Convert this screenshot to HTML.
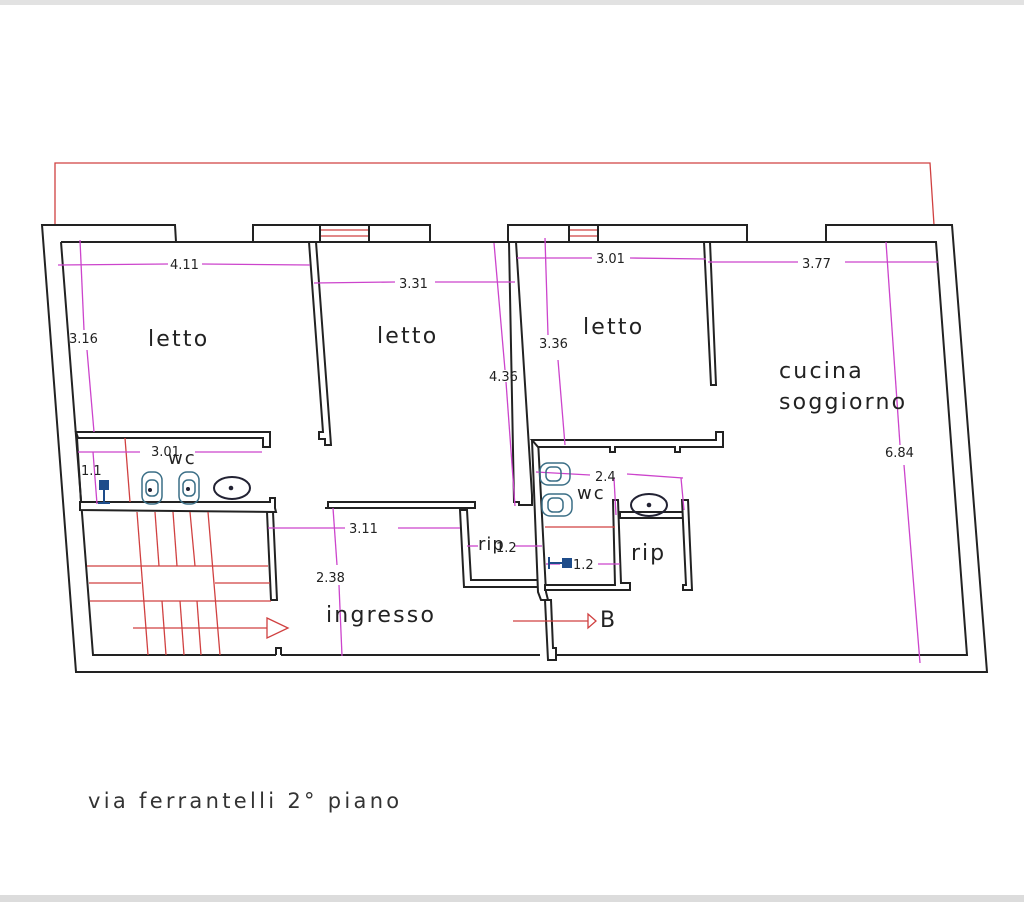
<!DOCTYPE html>
<html><head><meta charset="utf-8"><style>
html,body{margin:0;padding:0;background:#fff;}
svg{display:block;}
text{font-family:"DejaVu Sans","Liberation Sans",sans-serif;}
</style></head><body>
<svg width="1024" height="902" viewBox="0 0 1024 902" xmlns="http://www.w3.org/2000/svg">
<rect x="0" y="0" width="1024" height="5" fill="#e2e2e2"/>
<rect x="0" y="895" width="1024" height="7" fill="#dcdcdc"/>

<polyline points="55,225 55,163 930,163 934,225" fill="none" stroke="#d04040" stroke-width="1.3"/>
<g stroke="#d04040" stroke-width="1.2" fill="none">
<line x1="176" y1="242" x2="253" y2="242"/>
<line x1="430" y1="242" x2="508" y2="242"/>
<line x1="747" y1="242" x2="826" y2="242"/>
<line x1="320" y1="230" x2="369" y2="230"/><line x1="320" y1="236" x2="369" y2="236"/>
<line x1="569" y1="230" x2="598" y2="230"/><line x1="569" y1="236" x2="598" y2="236"/>
</g>

<g stroke="#222" stroke-width="2" fill="#fff" stroke-linejoin="miter">
<polyline points="176,242 175,225 42,225 76,672 987,672 952,225 826,225 826,242" fill="none"/>
<polyline points="253,242 253,225 430,225 430,242" fill="none"/>
<line x1="320" y1="225" x2="320" y2="242"/><line x1="369" y1="225" x2="369" y2="242"/>
<polyline points="508,242 508,225 747,225 747,242" fill="none"/>
<line x1="569" y1="225" x2="569" y2="242"/><line x1="598" y1="225" x2="598" y2="242"/>
<polyline points="61,242 309,242" fill="none"/>
<polyline points="61,242 93,655 276,655" fill="none"/>
<polyline points="281,655 540,655" fill="none"/>
<polyline points="552,655 967,655 936,242 710,242" fill="none"/>
<line x1="316" y1="242" x2="509" y2="242"/>
<line x1="516" y1="242" x2="704" y2="242"/>
<polyline points="276,655 276,648 281,648 281,655" fill="none"/>

<polygon points="309,242 316,242 331,445 325,445 325,439 319,439 319,432 323,432"/>
<polygon points="76,432 270,432 270,447 263,447 263,438 78,438"/>
<line x1="77" y1="438" x2="81" y2="502"/>
<polygon points="80,502 270,502 270,498 275,498 275,508 276,512 80,510"/>
<polygon points="267,512 273,512 277,600 271,600"/>
<polygon points="325,508 328,508 328,502 475,502 475,508 335,508"/>
<polygon points="460,510 467,510 471,580 545,580 545,587 464,587"/>
<polygon points="509,242 516,242 532,495 532,505 519,505 519,502 514,502"/>
<polygon points="532,440 538,440 546,592 548,600 541,600 538,592"/>
<polygon points="532,440 716,440 716,432 723,432 723,447 680,447 680,452 675,452 675,447 615,447 615,452 610,452 610,447 538,447"/>
<polygon points="704,242 710,242 716,385 711,385"/>
<polygon points="613,500 618,500 621,583 630,583 630,590 545,590 545,585 615,585"/>
<polygon points="620,512 684,512 684,518 620,518"/>
<polygon points="682,500 688,500 692,590 683,590 683,585 686,585"/>
<polygon points="545,600 551,600 553,648 556,648 556,660 548,660"/>
</g>

<g stroke="#d04040" stroke-width="1.3" fill="none">
<line x1="125" y1="438" x2="130" y2="502"/>
<line x1="545" y1="527" x2="615" y2="527"/>
<line x1="137" y1="512" x2="148" y2="655"/>
<line x1="208" y1="512" x2="220" y2="655"/>
<line x1="155" y1="512" x2="159" y2="566"/><line x1="173" y1="512" x2="177" y2="566"/><line x1="190" y1="512" x2="195" y2="566"/>
<line x1="162" y1="601" x2="166" y2="655"/><line x1="180" y1="601" x2="184" y2="655"/><line x1="197" y1="601" x2="201" y2="655"/>
<line x1="87" y1="566" x2="268" y2="566"/>
<line x1="89" y1="583" x2="141" y2="583"/><line x1="215" y1="583" x2="270" y2="583"/>
<line x1="90" y1="601" x2="271" y2="601"/>
<line x1="133" y1="628" x2="267" y2="628"/>
<polygon points="267,618 288,628 267,638"/>
<line x1="513" y1="621" x2="588" y2="621"/>
<polygon points="588,614 596,621 588,628"/>
</g>

<g stroke="#cc44cc" stroke-width="1.3" fill="none">
<line x1="58" y1="265" x2="168" y2="264"/><line x1="202" y1="264" x2="310" y2="265"/>
<line x1="314" y1="283" x2="395" y2="282"/><line x1="435" y1="282" x2="515" y2="282"/>
<line x1="517" y1="258" x2="592" y2="258"/><line x1="630" y1="258" x2="706" y2="259"/>
<line x1="708" y1="262" x2="798" y2="262"/><line x1="845" y1="262" x2="938" y2="262"/>
<line x1="80" y1="240" x2="84" y2="330"/><line x1="87" y1="350" x2="94" y2="432"/>
<line x1="494" y1="243" x2="505" y2="370"/><line x1="506" y1="382" x2="515" y2="506"/>
<line x1="545" y1="238" x2="548" y2="335"/><line x1="558" y1="360" x2="565" y2="445"/>
<line x1="886" y1="242" x2="900" y2="445"/><line x1="904" y1="465" x2="920" y2="663"/>
<line x1="333" y1="508" x2="337" y2="565"/><line x1="339" y1="585" x2="342" y2="656"/>
<line x1="78" y1="452" x2="140" y2="452"/><line x1="195" y1="452" x2="262" y2="452"/>
<line x1="268" y1="528" x2="345" y2="528"/><line x1="398" y1="528" x2="460" y2="528"/>
<line x1="467" y1="546" x2="478" y2="546"/><line x1="515" y1="546" x2="542" y2="546"/>
<line x1="536" y1="472" x2="590" y2="475"/><line x1="627" y1="474" x2="683" y2="478"/>
<line x1="546" y1="564" x2="560" y2="564"/><line x1="598" y1="564" x2="620" y2="564"/>
<line x1="614" y1="478" x2="616" y2="515"/><line x1="681" y1="478" x2="684" y2="510"/>
<line x1="93" y1="452" x2="97" y2="504"/>
</g>

<g stroke="#3a6e86" stroke-width="1.5" fill="none">
<rect x="142" y="472" width="20" height="32" rx="8"/><rect x="146" y="480" width="12" height="16" rx="5"/>
<rect x="179" y="472" width="20" height="32" rx="8"/><rect x="183" y="480" width="12" height="16" rx="5"/>
<ellipse cx="232" cy="488" rx="18" ry="11" stroke="#223" stroke-width="2"/>
<rect x="540" y="463" width="30" height="22" rx="8"/><rect x="546" y="467" width="15" height="14" rx="5"/>
<rect x="542" y="494" width="30" height="22" rx="8"/><rect x="548" y="498" width="15" height="14" rx="5"/>
<ellipse cx="649" cy="505" rx="18" ry="11" stroke="#223" stroke-width="2"/>
</g>
<circle cx="150" cy="490" r="2" fill="#223"/><circle cx="188" cy="489" r="2" fill="#223"/>
<circle cx="231" cy="488" r="2.3" fill="#223"/><circle cx="649" cy="505" r="2.3" fill="#223"/>
<rect x="99" y="480" width="10" height="10" fill="#1e4c8a"/>
<line x1="104" y1="490" x2="104" y2="503" stroke="#1e4c8a" stroke-width="2"/>
<line x1="98" y1="503" x2="110" y2="503" stroke="#1e4c8a" stroke-width="2"/>
<rect x="562" y="558" width="10" height="10" fill="#1e4c8a"/>
<line x1="549" y1="563" x2="562" y2="563" stroke="#1e4c8a" stroke-width="2"/>
<line x1="549" y1="557" x2="549" y2="569" stroke="#1e4c8a" stroke-width="2"/>

<g fill="#222">
<text x="148" y="346" font-size="22" letter-spacing="2.2">letto</text>
<text x="377" y="343" font-size="22" letter-spacing="2.2">letto</text>
<text x="583" y="334" font-size="22" letter-spacing="2.2">letto</text>
<text x="779" y="378" font-size="22" letter-spacing="2.2">cucina</text>
<text x="779" y="409" font-size="22" letter-spacing="2.2">soggiorno</text>
<text x="326" y="622" font-size="22" letter-spacing="2.2">ingresso</text>
<text x="631" y="560" font-size="22" letter-spacing="2">rip</text>
<text x="478" y="550" font-size="18" letter-spacing="1">rip</text>
<text x="600" y="627" font-size="22">B</text>
<text x="168" y="464" font-size="18" letter-spacing="2">wc</text>
<text x="577" y="499" font-size="18" letter-spacing="2">wc</text>
<text x="88" y="808" font-size="21" letter-spacing="3.3" fill="#333">via ferrantelli 2° piano</text>
<g font-size="13">
<text x="170" y="269">4.11</text>
<text x="399" y="288">3.31</text>
<text x="596" y="263">3.01</text>
<text x="802" y="268">3.77</text>
<text x="69" y="343">3.16</text>
<text x="489" y="381">4.36</text>
<text x="539" y="348">3.36</text>
<text x="885" y="457">6.84</text>
<text x="151" y="456">3.01</text>
<text x="349" y="533">3.11</text>
<text x="316" y="582">2.38</text>
<text x="81" y="475">1.1</text>
<text x="595" y="481">2.4</text>
<text x="573" y="569">1.2</text>
<text x="496" y="552">1.2</text>
</g>
</g>
</svg>
</body></html>
